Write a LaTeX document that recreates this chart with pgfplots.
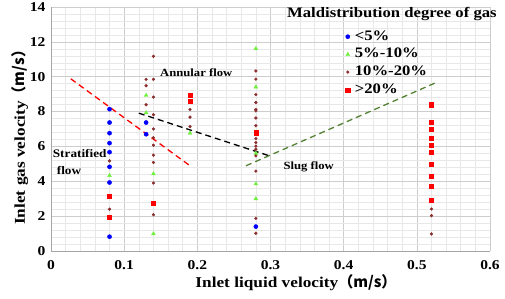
\documentclass[border=0pt]{standalone}
\usepackage{fontspec}
\setmainfont{Liberation Serif}[FakeStretch=1.15]
\newfontfamily\cjk{Noto Sans CJK SC}
\usepackage{pgfplots}
\pgfplotsset{compat=1.18}
\definecolor{mblue}{RGB}{0,0,255}
\definecolor{mgreen}{RGB}{110,240,60}
\definecolor{mbrown}{RGB}{140,45,45}
\definecolor{mred}{RGB}{255,0,0}
\definecolor{lgreen}{RGB}{84,130,53}
\definecolor{gmaj}{RGB}{205,205,205}
\definecolor{gmin}{RGB}{232,232,232}
\begin{document}
\begin{tikzpicture}
\begin{axis}[name=ax, scale only axis, width=439pt, height=244pt,
  xmin=0, xmax=0.6, ymin=0, ymax=14,
  xtick={0,0.1,0.2,0.3,0.4,0.5,0.6},
  xticklabels={0,0.1,0.2,0.3,0.4,0.5,0.6},
  ytick={0,2,4,6,8,10,12,14},
  yticklabels={0,2,4,6,8,10,12,14},
  minor x tick num=4, minor y tick num=4,
  grid=both,
  major grid style={gmaj, line width=0.6pt},
  minor grid style={gmin, line width=0.5pt},
  axis x line*=bottom, axis y line*=left,
  axis line style={draw=gray!70, line width=0.8pt, -},
  major tick length=0pt, minor tick length=0pt,
  tick label style={font=\fontsize{13.5}{15}\selectfont\bfseries},
  xticklabel style={anchor=north, yshift=-6pt},
  yticklabel style={anchor=east, xshift=-2pt},
  xlabel={Inlet liquid velocity\cjk{（}m/s\cjk{）}},
  ylabel={Inlet gas velocity\cjk{（}m/s\cjk{）}},
  label style={font=\fontsize{15}{18}\selectfont\bfseries},
  xlabel style={at={(axis description cs:0.558,-0.131)}, anchor=center},
  ylabel style={at={(axis description cs:-0.0706,0.48)}, anchor=center, rotate=0},
  legend style={at={(rel axis cs:0.664,0.918)}, anchor=north west, draw=none, fill=none,
    font=\fontsize{14.5}{17}\selectfont\bfseries, row sep=2.7pt,
    nodes={inner ysep=1pt, inner xsep=5pt, text height=10pt, text depth=3pt}},
  legend cell align=left,
  clip=false,
]
\addplot[only marks, mark=*, mark size=2.1pt, draw=mblue, fill=mblue] coordinates {
(0.08,8.14)(0.08,7.37)(0.08,6.76)(0.08,6.19)(0.08,5.67)(0.08,4.83)(0.08,3.93)(0.08,0.82)
(0.13,7.37)(0.13,6.70)(0.28,1.40)};
\addlegendentry{<5\%}
\addplot[only marks, mark=triangle*, mark size=2.2pt, draw=mgreen, fill=mgreen] coordinates {
(0.08,4.33)(0.13,8.93)(0.13,7.93)(0.14,4.43)(0.14,0.99)(0.19,6.76)
(0.28,11.61)(0.28,9.41)(0.28,5.61)(0.28,3.85)(0.28,3.00)};
\addlegendentry{5\%-10\%}
\addplot[only marks, mark=*, mark size=1.4pt, draw=mbrown, fill=mbrown] coordinates {
(0.08,5.17)(0.08,2.40)
(0.13,9.85)(0.13,9.48)(0.13,8.39)
(0.14,11.17)(0.14,9.85)(0.14,8.83)(0.14,7.82)(0.14,7.00)(0.14,6.50)(0.14,6.07)(0.14,5.50)(0.14,5.08)(0.14,3.90)(0.14,2.08)
(0.19,8.12)(0.19,7.68)(0.19,7.14)
(0.28,10.33)(0.28,9.86)(0.28,8.97)(0.28,8.52)(0.28,8.12)(0.28,8.04)(0.28,7.63)(0.28,7.19)(0.28,6.45)(0.28,6.22)(0.28,6.02)(0.28,5.84)(0.28,5.46)(0.28,4.58)(0.28,1.87)(0.28,1.02)
(0.52,2.41)(0.52,2.03)(0.52,0.98)};
\addlegendentry{10\%-20\%}
\addplot[only marks, mark=square*, mark size=2.1pt, draw=mred, fill=mred] coordinates {
(0.08,3.16)(0.08,1.94)(0.14,2.76)(0.19,8.95)(0.19,8.60)(0.28,6.79)
(0.52,8.39)(0.52,7.41)(0.52,7.01)(0.52,6.47)(0.52,6.09)(0.52,5.67)(0.52,4.98)(0.52,4.29)(0.52,3.70)(0.52,2.93)};
\addlegendentry{>20\%}
\addplot[forget plot, mred, line width=1.3pt, dash pattern=on 6pt off 4pt] coordinates {(0.027,9.88)(0.19,4.89)};
\addplot[forget plot, black, line width=1.3pt, dash pattern=on 6pt off 4pt] coordinates {(0.12,7.91)(0.297,5.48)};
\addplot[forget plot, lgreen, line width=1.3pt, dash pattern=on 6pt off 4pt] coordinates {(0.2665,4.89)(0.525,9.64)};
\node[anchor=base west, inner sep=0pt, font=\fontsize{11.5}{13}\selectfont\bfseries] at (axis cs:0.0023,5.34) {Stratified};
\node[anchor=base west, inner sep=0pt, font=\fontsize{11.5}{13}\selectfont\bfseries] at (axis cs:0.0078,4.37) {flow};
\node[anchor=base west, inner sep=0pt, font=\fontsize{11}{13}\selectfont\bfseries] at (axis cs:0.149,10.0) {Annular flow};
\node[anchor=base west, inner sep=0pt, font=\fontsize{11}{13}\selectfont\bfseries] at (axis cs:0.3175,4.66) {Slug flow};
\node[anchor=base west, inner sep=0pt, font=\fontsize{14.5}{17}\selectfont\bfseries] at (axis cs:0.3225,13.38) {Maldistribution degree of gas};
\end{axis}
\pgfresetboundingbox
\path ([xshift=-51pt,yshift=-48pt]ax.south west) rectangle ([xshift=15pt,yshift=7pt]ax.north east);
\end{tikzpicture}
\end{document}
